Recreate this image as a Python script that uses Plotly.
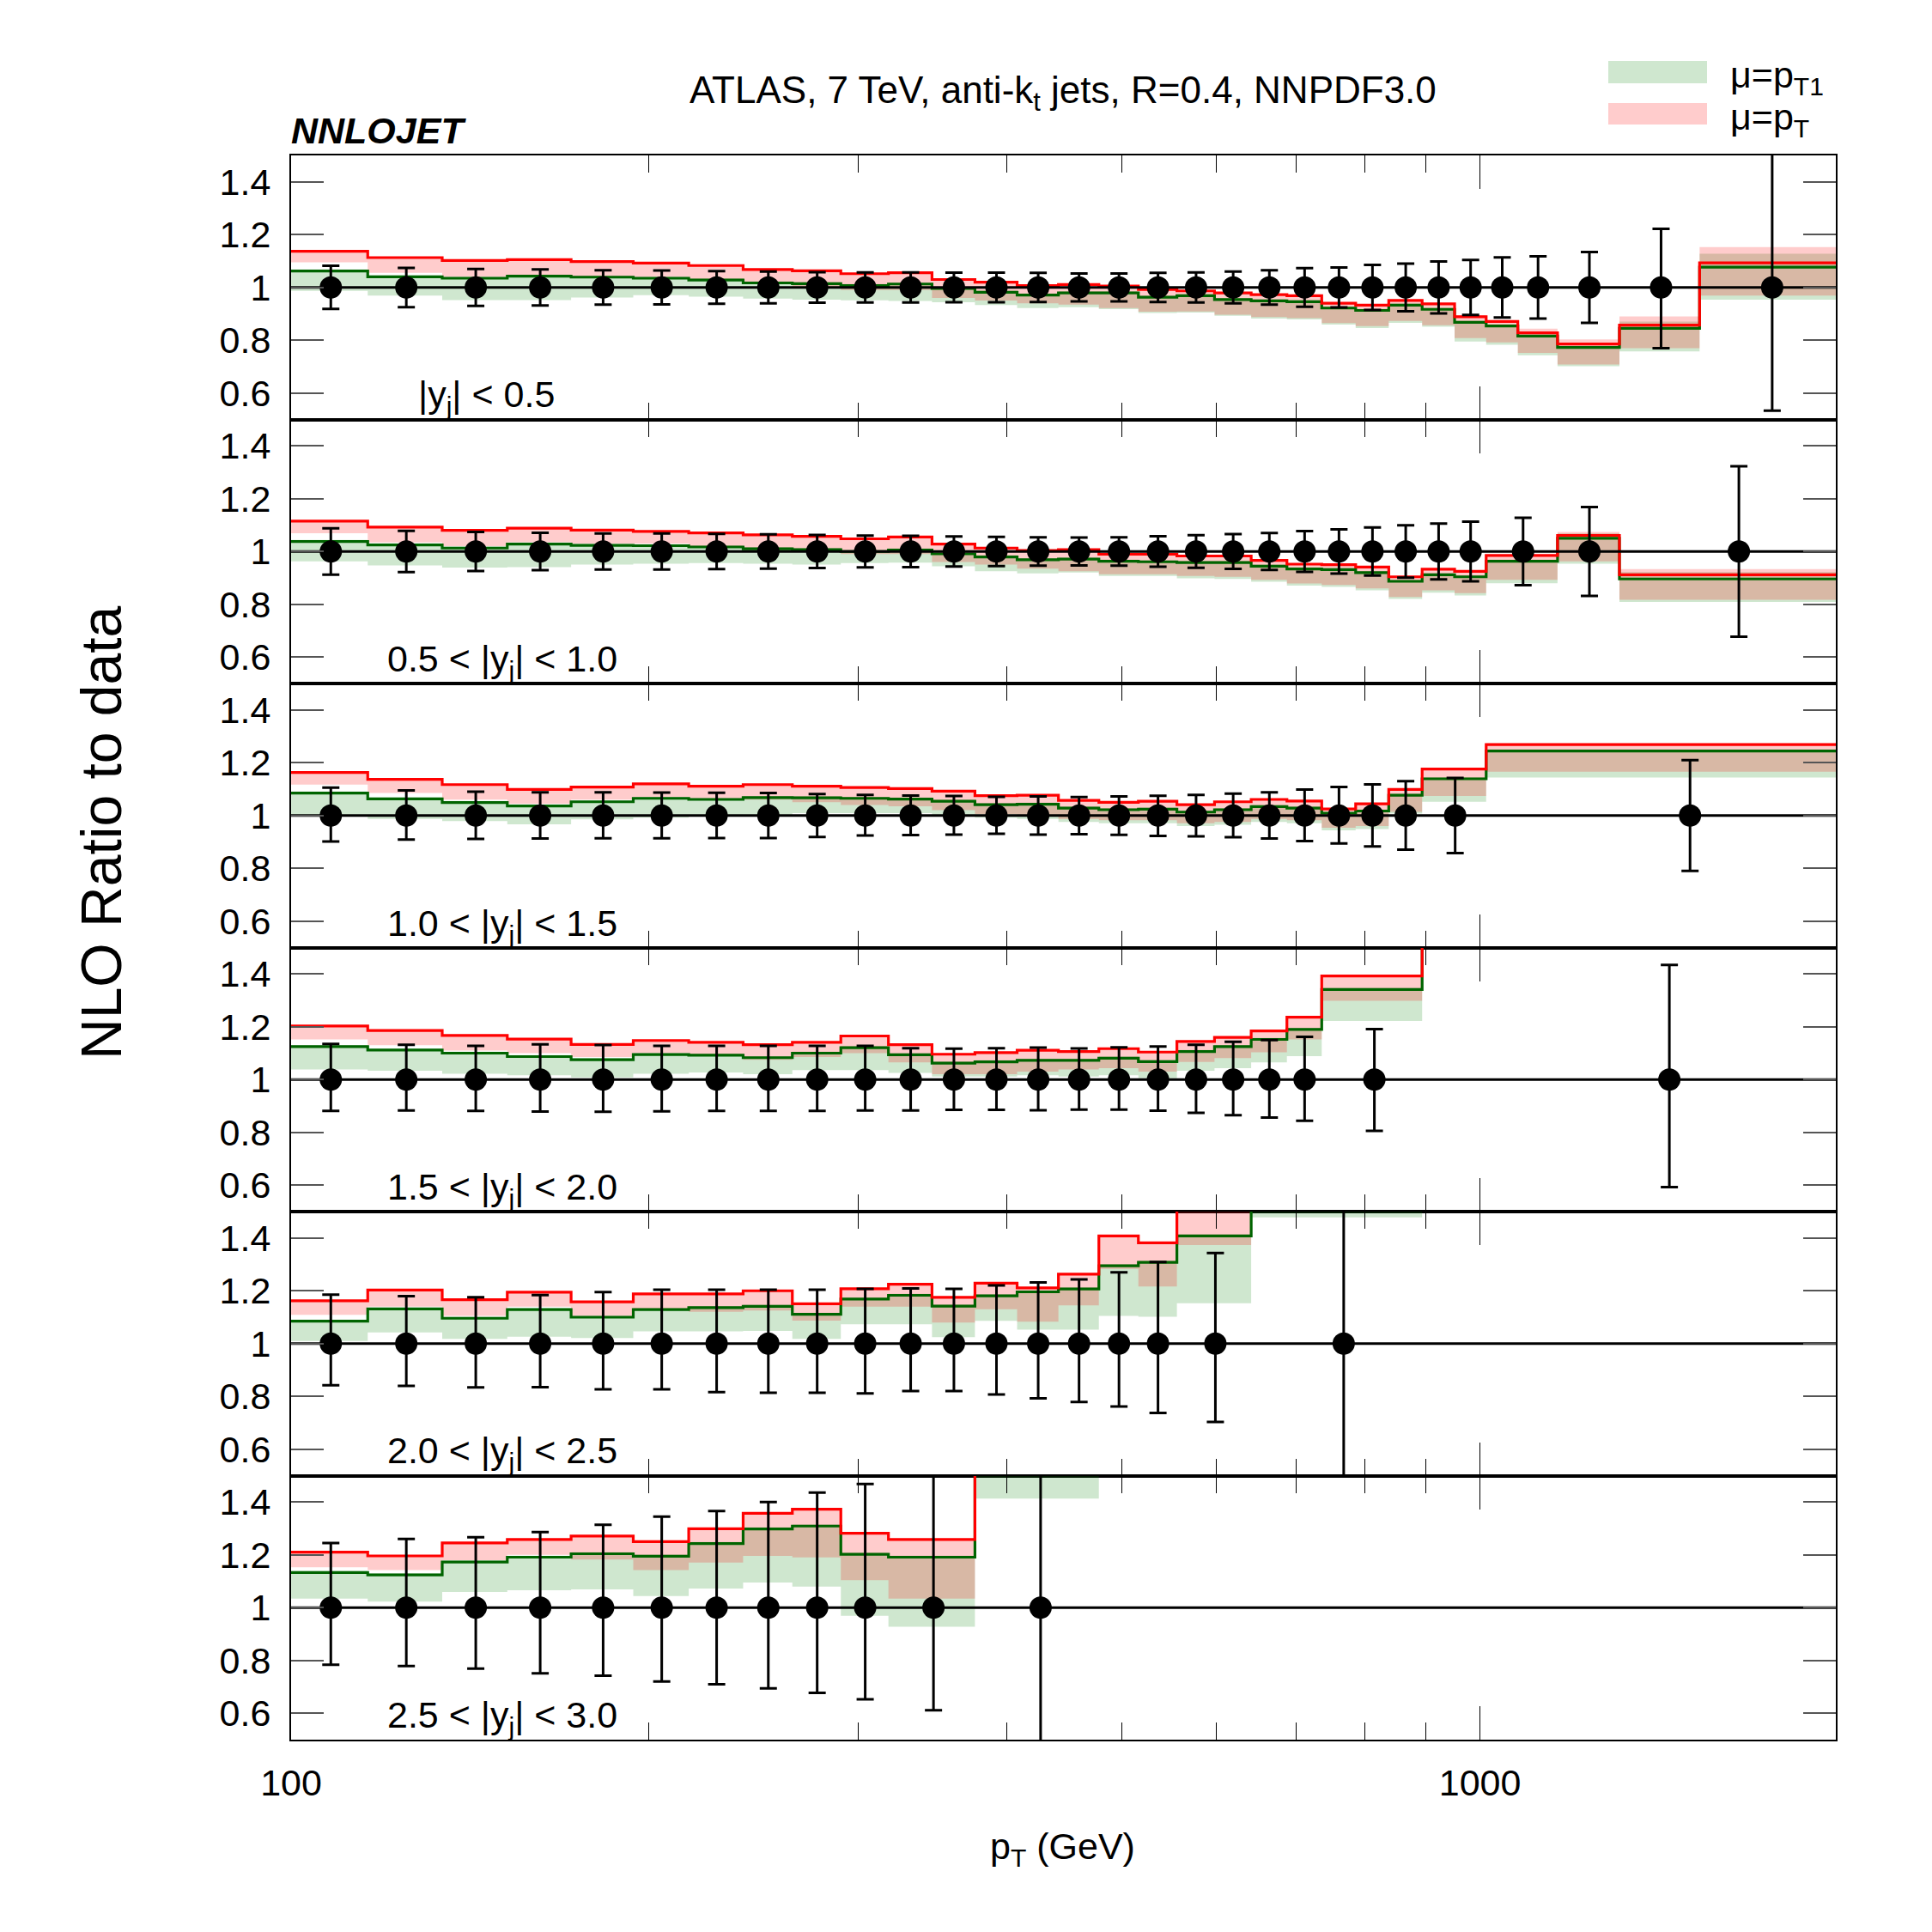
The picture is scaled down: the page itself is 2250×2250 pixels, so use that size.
import math
import plotly.graph_objects as go
from plotly.subplots import make_subplots

# ---------------- data ----------------
panel_labels = ["|y<sub>j</sub>| < 0.5", "0.5 < |y<sub>j</sub>| < 1.0", "1.0 < |y<sub>j</sub>| < 1.5",
                "1.5 < |y<sub>j</sub>| < 2.0", "2.0 < |y<sub>j</sub>| < 2.5", "2.5 < |y<sub>j</sub>| < 3.0"]

edges1 = [100,116,134,152,172,194,216,240,264,290,318,346,376,408,442,478,516,556,598,642,688,736,786,838,894,952,1012,1076,1162,1310,1530,1992]
red_c1 = [1.137,1.113,1.102,1.105,1.098,1.092,1.083,1.068,1.063,1.052,1.056,1.030,1.020,1.007,1.011,1.005,0.992,0.987,0.979,0.973,0.969,0.940,0.933,0.951,0.938,0.889,0.871,0.828,0.786,0.857,1.093]
red_hi1 = [1.137,1.113,1.102,1.105,1.098,1.092,1.083,1.068,1.063,1.052,1.056,1.030,1.020,1.007,1.011,1.005,0.992,0.987,0.979,0.973,0.969,0.940,0.933,0.951,0.938,0.895,0.875,0.844,0.803,0.890,1.153]
red_lo1 = [1.095,1.055,1.041,1.044,1.040,1.040,1.030,1.015,1.000,0.990,0.990,0.960,0.950,0.940,0.935,0.922,0.908,0.909,0.897,0.888,0.884,0.865,0.854,0.873,0.857,0.808,0.792,0.752,0.708,0.770,0.969]
green_c1 = [1.062,1.040,1.035,1.043,1.039,1.035,1.028,1.017,1.014,1.007,1.013,0.996,0.982,0.971,0.979,0.979,0.963,0.969,0.954,0.949,0.946,0.922,0.913,0.933,0.917,0.868,0.854,0.816,0.773,0.845,1.077]
green_hi1 = [1.068,1.046,1.041,1.049,1.045,1.041,1.034,1.023,1.020,1.013,1.019,1.002,0.988,0.977,0.985,0.985,0.969,0.975,0.960,0.955,0.952,0.928,0.919,0.939,0.923,0.874,0.860,0.822,0.779,0.871,1.128]
green_lo1 = [0.987,0.969,0.952,0.952,0.962,0.971,0.965,0.958,0.954,0.951,0.949,0.944,0.933,0.922,0.925,0.918,0.903,0.905,0.893,0.882,0.879,0.859,0.846,0.866,0.851,0.795,0.783,0.743,0.702,0.758,0.954]
err_up1 = [0.082,0.074,0.070,0.068,0.065,0.064,0.062,0.060,0.058,0.057,0.057,0.056,0.056,0.055,0.053,0.053,0.055,0.057,0.060,0.065,0.073,0.076,0.085,0.090,0.098,0.104,0.114,0.118,0.134,0.222,0.600]
err_dn1 = [0.081,0.075,0.070,0.068,0.065,0.064,0.062,0.060,0.058,0.057,0.057,0.056,0.056,0.055,0.053,0.053,0.055,0.057,0.060,0.065,0.073,0.076,0.085,0.090,0.098,0.104,0.114,0.118,0.134,0.230,0.467]

edges2 = [100,116,134,152,172,194,216,240,264,290,318,346,376,408,442,478,516,556,598,642,688,736,786,838,894,952,1012,1162,1310,1992]
red_c2 = [1.115,1.092,1.080,1.088,1.081,1.076,1.070,1.063,1.057,1.048,1.055,1.028,1.013,1.004,1.007,0.990,0.990,0.983,0.983,0.966,0.952,0.950,0.941,0.904,0.933,0.925,0.985,1.061,0.912]
red_hi2 = [1.115,1.092,1.080,1.088,1.081,1.076,1.070,1.063,1.057,1.048,1.055,1.028,1.013,1.004,1.007,0.990,0.990,0.983,0.983,0.966,0.952,0.950,0.941,0.904,0.933,0.925,0.985,1.074,0.933]
red_lo2 = [1.069,1.034,1.020,1.035,1.030,1.030,1.020,1.005,1.000,0.990,0.990,0.960,0.950,0.935,0.925,0.914,0.914,0.907,0.904,0.893,0.879,0.873,0.860,0.828,0.853,0.842,0.893,0.963,0.817]
green_c2 = [1.038,1.025,1.013,1.028,1.023,1.022,1.017,1.010,1.007,1.000,1.005,0.991,0.979,0.969,0.971,0.963,0.961,0.958,0.958,0.944,0.934,0.931,0.920,0.887,0.912,0.904,0.963,1.050,0.896]
green_hi2 = [1.044,1.031,1.019,1.034,1.029,1.028,1.023,1.016,1.013,1.006,1.011,0.997,0.985,0.975,0.977,0.969,0.967,0.964,0.964,0.950,0.940,0.937,0.926,0.893,0.918,0.910,0.969,1.068,0.922]
green_lo2 = [0.963,0.947,0.939,0.941,0.950,0.954,0.956,0.954,0.950,0.956,0.958,0.944,0.925,0.917,0.920,0.907,0.907,0.898,0.896,0.885,0.871,0.866,0.853,0.820,0.844,0.833,0.880,0.954,0.809]
err_up2 = [0.088,0.078,0.074,0.071,0.068,0.068,0.067,0.065,0.063,0.060,0.059,0.057,0.055,0.054,0.053,0.054,0.058,0.062,0.066,0.070,0.077,0.084,0.091,0.099,0.106,0.113,0.128,0.168,0.323]
err_dn2 = [0.088,0.078,0.074,0.071,0.068,0.068,0.067,0.065,0.063,0.060,0.059,0.057,0.055,0.054,0.053,0.054,0.058,0.062,0.066,0.070,0.077,0.084,0.091,0.099,0.106,0.113,0.128,0.168,0.323]

edges3 = [100,116,134,152,172,194,216,240,264,290,318,346,376,408,442,478,516,556,598,642,688,736,786,838,894,1012,1992]
red_c3 = [1.163,1.137,1.117,1.099,1.108,1.120,1.111,1.117,1.111,1.106,1.102,1.092,1.075,1.077,1.057,1.050,1.054,1.041,1.052,1.061,1.055,1.025,1.044,1.099,1.176,1.269]
red_hi3 = [1.163,1.137,1.117,1.099,1.108,1.120,1.111,1.117,1.111,1.106,1.102,1.092,1.075,1.077,1.057,1.050,1.054,1.041,1.052,1.061,1.055,1.025,1.044,1.099,1.180,1.274]
red_lo3 = [1.117,1.085,1.060,1.045,1.060,1.070,1.065,1.060,1.050,1.040,1.035,1.020,1.005,1.000,0.987,0.982,0.982,0.971,0.976,0.987,0.982,0.954,0.960,1.014,1.074,1.166]
green_c3 = [1.085,1.063,1.049,1.036,1.052,1.065,1.061,1.068,1.067,1.065,1.062,1.054,1.041,1.043,1.028,1.022,1.024,1.013,1.022,1.034,1.028,1.009,1.017,1.077,1.139,1.244]
green_hi3 = [1.091,1.069,1.055,1.042,1.058,1.071,1.067,1.074,1.073,1.071,1.068,1.060,1.047,1.049,1.034,1.028,1.030,1.019,1.028,1.040,1.034,1.015,1.023,1.083,1.145,1.250]
green_lo3 = [0.998,0.987,0.979,0.967,0.985,0.992,0.998,1.003,1.009,1.009,1.009,1.000,0.992,0.987,0.976,0.971,0.971,0.960,0.965,0.976,0.971,0.944,0.949,1.007,1.052,1.144]
err_up3 = [0.106,0.095,0.090,0.088,0.088,0.087,0.086,0.085,0.081,0.078,0.076,0.074,0.071,0.072,0.070,0.072,0.075,0.078,0.083,0.088,0.098,0.108,0.118,0.130,0.142,0.210]
err_dn3 = [0.098,0.091,0.089,0.087,0.086,0.086,0.085,0.085,0.081,0.076,0.074,0.072,0.069,0.072,0.071,0.073,0.077,0.079,0.082,0.087,0.097,0.106,0.117,0.129,0.142,0.210]

edges4 = [100,116,134,152,172,194,216,240,264,290,318,346,376,408,442,478,516,556,598,642,688,736,894,1992]
red_c4 = [1.203,1.186,1.167,1.153,1.133,1.148,1.141,1.132,1.141,1.165,1.132,1.096,1.102,1.111,1.106,1.117,1.104,1.144,1.160,1.184,1.236,1.392,1.700]
red_hi4 = [1.203,1.186,1.167,1.153,1.133,1.148,1.141,1.132,1.141,1.165,1.132,1.096,1.102,1.111,1.106,1.117,1.104,1.144,1.160,1.184,1.236,1.392,1.800]
red_lo4 = [1.152,1.130,1.110,1.100,1.085,1.100,1.090,1.075,1.085,1.100,1.065,1.020,1.020,1.030,1.038,1.043,1.030,1.067,1.081,1.103,1.152,1.298,1.600]
green_c4 = [1.125,1.112,1.100,1.087,1.075,1.095,1.092,1.083,1.100,1.121,1.094,1.062,1.067,1.073,1.073,1.081,1.068,1.106,1.125,1.152,1.190,1.341,1.650]
green_hi4 = [1.131,1.118,1.106,1.093,1.081,1.101,1.098,1.089,1.106,1.127,1.100,1.068,1.073,1.079,1.079,1.087,1.074,1.112,1.131,1.158,1.196,1.347,1.750]
green_lo4 = [1.038,1.033,1.022,1.016,1.008,1.022,1.027,1.020,1.036,1.036,1.025,1.011,1.011,1.016,1.011,1.016,1.005,1.033,1.043,1.065,1.089,1.222,1.550]
err_up4 = [0.135,0.132,0.128,0.133,0.131,0.128,0.128,0.128,0.128,0.128,0.119,0.117,0.119,0.121,0.118,0.122,0.125,0.132,0.143,0.150,0.162,0.191,0.434]
err_dn4 = [0.119,0.117,0.119,0.121,0.122,0.120,0.119,0.119,0.119,0.117,0.117,0.115,0.115,0.116,0.114,0.114,0.118,0.126,0.135,0.144,0.156,0.194,0.407]

edges5 = [100,116,134,152,172,194,216,240,264,290,318,346,376,408,442,478,516,556,642,894]
red_c5 = [1.162,1.203,1.166,1.195,1.158,1.188,1.188,1.200,1.151,1.208,1.225,1.175,1.229,1.211,1.263,1.408,1.382,1.560,1.650]
red_hi5 = [1.162,1.203,1.166,1.195,1.158,1.188,1.188,1.200,1.151,1.208,1.225,1.175,1.229,1.211,1.263,1.408,1.382,1.600,1.750]
red_lo5 = [1.109,1.140,1.105,1.140,1.105,1.130,1.120,1.125,1.087,1.140,1.140,1.080,1.130,1.083,1.145,1.283,1.216,1.373,1.550]
green_c5 = [1.085,1.131,1.096,1.129,1.100,1.129,1.136,1.141,1.111,1.169,1.183,1.142,1.181,1.196,1.207,1.295,1.308,1.408,1.600]
green_hi5 = [1.091,1.137,1.102,1.135,1.106,1.135,1.142,1.147,1.117,1.175,1.189,1.148,1.187,1.202,1.213,1.301,1.314,1.414,1.700]
green_lo5 = [1.010,1.042,1.018,1.026,1.021,1.046,1.046,1.048,1.018,1.073,1.073,1.024,1.086,1.053,1.053,1.105,1.102,1.153,1.478]
err_up5 = [0.185,0.180,0.176,0.184,0.195,0.204,0.204,0.204,0.204,0.207,0.209,0.207,0.220,0.232,0.243,0.270,0.309,0.343,0.600]
err_dn5 = [0.158,0.160,0.166,0.165,0.173,0.173,0.184,0.186,0.186,0.189,0.180,0.180,0.193,0.207,0.221,0.238,0.263,0.297,0.600]

edges6 = [100,116,134,152,172,194,216,240,264,290,318,376,478]
red_c6 = [1.210,1.196,1.245,1.258,1.271,1.250,1.299,1.357,1.373,1.282,1.258,1.700]
red_hi6 = [1.210,1.196,1.245,1.258,1.271,1.250,1.299,1.357,1.373,1.282,1.258,1.800]
red_lo6 = [1.153,1.142,1.180,1.200,1.182,1.142,1.171,1.196,1.190,1.104,1.034,1.600]
green_c6 = [1.133,1.124,1.173,1.191,1.204,1.195,1.243,1.298,1.309,1.202,1.191,1.650]
green_hi6 = [1.139,1.130,1.179,1.197,1.210,1.201,1.249,1.304,1.315,1.208,1.197,1.750]
green_lo6 = [1.034,1.023,1.059,1.066,1.069,1.044,1.072,1.095,1.080,0.969,0.928,1.413]
err_up6 = [0.245,0.260,0.267,0.286,0.314,0.345,0.366,0.400,0.436,0.468,0.600,0.600]
err_dn6 = [0.216,0.221,0.231,0.249,0.258,0.280,0.290,0.306,0.323,0.347,0.389,0.600]

panels = [
    (edges1, red_c1, red_hi1, red_lo1, green_c1, green_hi1, green_lo1, err_up1, err_dn1),
    (edges2, red_c2, red_hi2, red_lo2, green_c2, green_hi2, green_lo2, err_up2, err_dn2),
    (edges3, red_c3, red_hi3, red_lo3, green_c3, green_hi3, green_lo3, err_up3, err_dn3),
    (edges4, red_c4, red_hi4, red_lo4, green_c4, green_hi4, green_lo4, err_up4, err_dn4),
    (edges5, red_c5, red_hi5, red_lo5, green_c5, green_hi5, green_lo5, err_up5, err_dn5),
    (edges6, red_c6, red_hi6, red_lo6, green_c6, green_hi6, green_lo6, err_up6, err_dn6),
]

x_major = [100, 1000]
x_minor = [200, 300, 400, 500, 600, 700, 800, 900]
y_ticks = [0.6, 0.8, 1.0, 1.2, 1.4]
y_ticktext = ["0.6", "0.8", "1", "1.2", "1.4"]

# ---------------- layout geometry ----------------
W = H = 2250
L, R, T, B = 339, 2138, 181, 2026
FONT = "Liberation Sans, Arial, Helvetica, sans-serif"
FS = 43

GREEN_FILL = "rgba(0,128,0,0.19)"
RED_FILL = "rgba(255,0,0,0.20)"
GREEN_LINE = "#006400"
RED_LINE = "#ff0000"

fig = make_subplots(rows=6, cols=1, shared_xaxes=True, vertical_spacing=0)


def stepy(v):
    return list(v) + [v[-1]]


for i, (ed, rc, rh, rl, gc, gh, gl, eu, edn) in enumerate(panels):
    row = i + 1
    # green band
    fig.add_trace(go.Scatter(x=ed, y=stepy(gl), mode="lines", line=dict(width=0, shape="hv"),
                             hoverinfo="skip"), row=row, col=1)
    fig.add_trace(go.Scatter(x=ed, y=stepy(gh), mode="lines", line=dict(width=0, shape="hv"),
                             fill="tonexty", fillcolor=GREEN_FILL, hoverinfo="skip"), row=row, col=1)
    # red band
    fig.add_trace(go.Scatter(x=ed, y=stepy(rl), mode="lines", line=dict(width=0, shape="hv"),
                             hoverinfo="skip"), row=row, col=1)
    fig.add_trace(go.Scatter(x=ed, y=stepy(rh), mode="lines", line=dict(width=0, shape="hv"),
                             fill="tonexty", fillcolor=RED_FILL, hoverinfo="skip"), row=row, col=1)
    # central lines
    fig.add_trace(go.Scatter(x=ed, y=stepy(gc), mode="lines",
                             line=dict(width=3.2, shape="hv", color=GREEN_LINE)), row=row, col=1)
    fig.add_trace(go.Scatter(x=ed, y=stepy(rc), mode="lines",
                             line=dict(width=3.2, shape="hv", color=RED_LINE)), row=row, col=1)
    # reference line at 1
    fig.add_trace(go.Scatter(x=[ed[0], edges1[-1]], y=[1, 1], mode="lines",
                             line=dict(width=3, color="black")), row=row, col=1)
    # data points
    centers = [(ed[k] + ed[k + 1]) / 2 for k in range(len(ed) - 1)]
    fig.add_trace(go.Scatter(x=centers, y=[1.0] * len(centers), mode="markers",
                             marker=dict(size=26, color="black"),
                             error_y=dict(type="data", symmetric=False, array=eu, arrayminus=edn,
                                          color="black", thickness=3, width=10)),
                  row=row, col=1)

for i in range(6):
    row = i + 1
    fig.update_xaxes(type="log", range=[2, math.log10(edges1[-1])],
                     showline=True, linecolor="black", linewidth=2, mirror="ticks",
                     ticks="inside", ticklen=39, tickwidth=1.2, tickcolor="black",
                     tickvals=x_major, ticktext=[str(v) for v in x_major],
                     showticklabels=(row == 6), showgrid=False, zeroline=False,
                     tickfont=dict(size=FS, color="black", family=FONT),
                     ticklabelstandoff=11,
                     minor=dict(tickvals=x_minor, ticks="inside", ticklen=20, tickwidth=1.2,
                                tickcolor="black", showgrid=False),
                     row=row, col=1)
    fig.update_yaxes(range=[0.5, 1.5], tickvals=y_ticks, ticktext=y_ticktext,
                     showline=True, linecolor="black", linewidth=2, mirror="ticks",
                     ticks="inside", ticklen=38, tickwidth=1.8, tickcolor="#555555",
                     showgrid=False, zeroline=False,
                     tickfont=dict(size=FS, color="black", family=FONT),
                     ticklabelstandoff=13,
                     row=row, col=1)


def px(x):
    return (x - L) / (R - L)


def py(y):
    return (B - y) / (B - T)


ann = []
panel_h = (B - T) / 6.0
label_x = [485, 449, 449, 449, 449, 449]
for i, lab in enumerate(panel_labels):
    bottom = T + panel_h * (i + 1)
    ann.append(dict(text=lab, x=px(label_x[i]), y=py(bottom - 26), xref="paper", yref="paper",
                    xanchor="left", yanchor="middle", showarrow=False,
                    font=dict(size=FS, color="black", family=FONT)))

ann.append(dict(text="ATLAS, 7 TeV, anti-k<sub>t</sub> jets, R=0.4, NNPDF3.0",
                x=px(1238), y=py(108), xref="paper", yref="paper", xanchor="center", yanchor="middle",
                showarrow=False, font=dict(size=44, color="black", family=FONT)))
ann.append(dict(text="<b><i>NNLOJET</i></b>", x=px(337), y=py(152), xref="paper", yref="paper",
                xanchor="left", yanchor="middle", showarrow=False,
                font=dict(size=FS, color="black", family=FONT)))
ann.append(dict(text="p<sub>T</sub> (GeV)", x=px(1237), y=py(2153), xref="paper", yref="paper",
                xanchor="center", yanchor="middle", showarrow=False,
                font=dict(size=FS, color="black", family=FONT)))
ann.append(dict(text="NLO Ratio to data", x=px(118), y=py(970), xref="paper", yref="paper",
                xanchor="center", yanchor="middle", textangle=-90, showarrow=False,
                font=dict(size=66, color="black", family=FONT)))
ann.append(dict(text="μ=p<sub>T1</sub>", x=px(2013), y=py(90), xref="paper", yref="paper",
                xanchor="left", yanchor="middle", showarrow=False,
                font=dict(size=FS, color="black", family=FONT)))
ann.append(dict(text="μ=p<sub>T</sub>", x=px(2013), y=py(139), xref="paper", yref="paper",
                xanchor="left", yanchor="middle", showarrow=False,
                font=dict(size=FS, color="black", family=FONT)))

shapes = [
    dict(type="rect", xref="paper", yref="paper", x0=px(1873), x1=px(1988), y0=py(97), y1=py(71),
         fillcolor=GREEN_FILL, line=dict(width=0)),
    dict(type="rect", xref="paper", yref="paper", x0=px(1873), x1=px(1988), y0=py(145), y1=py(120),
         fillcolor=RED_FILL, line=dict(width=0)),
]

fig.update_layout(width=W, height=H, margin=dict(l=L, r=W - R, t=T, b=H - B),
                  plot_bgcolor="white", paper_bgcolor="white", showlegend=False,
                  font=dict(family=FONT, size=FS, color="black"),
                  annotations=ann, shapes=shapes)

fig.write_html("out.html")
